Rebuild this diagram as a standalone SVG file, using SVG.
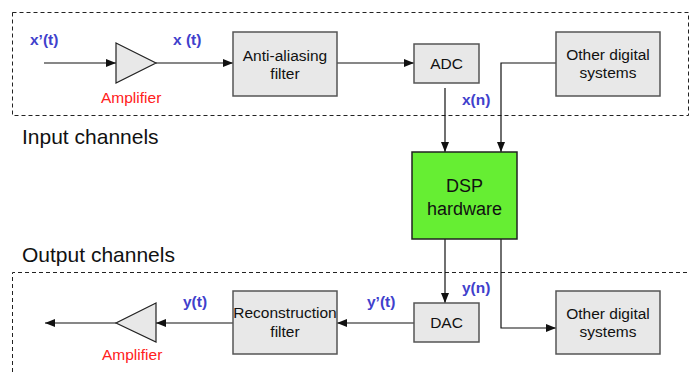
<svg xmlns="http://www.w3.org/2000/svg" width="690" height="372" viewBox="0 0 690 372">
<defs>
<style>
text{font-family:"Liberation Sans",Arial,sans-serif}
.box{fill:#e8e8e8;stroke:#555;stroke-width:1.5}
.dsp{fill:#66ee33;stroke:#222;stroke-width:1.5}
.tri{fill:#e8e8e8;stroke:#222;stroke-width:1.2}
.t{font-size:15.5px;fill:#111;text-anchor:middle}
.lbl{font-size:15.5px;font-weight:bold;fill:#4040cc}
.red{font-size:15.5px;fill:#ff2020}
.big{font-size:21px;fill:#111}
.dash{fill:none;stroke:#222;stroke-width:1;stroke-dasharray:4 3}
.ln{fill:none;stroke:#111;stroke-width:1.2;marker-end:url(#ah)}
.ln0{fill:none;stroke:#111;stroke-width:1.2}
</style>
<marker id="ah" viewBox="0 0 10 10" refX="10" refY="5" markerWidth="10" markerHeight="10" markerUnits="userSpaceOnUse" orient="auto">
<path d="M0,1 L10,5 L0,9 Z" fill="#111"/>
</marker>
</defs>
<g id="frames">
<rect class="dash" x="12.5" y="12.5" width="676" height="103"/>
<path class="dash" d="M12.5,372 V272.5 H690"/>
<text class="big" x="22" y="144">Input channels</text>
<text class="big" x="22" y="262">Output channels</text>
</g>
<g id="connectors">
<path class="ln" d="M44,63 H116"/>
<path class="ln" d="M156,63 H233"/>
<path class="ln" d="M337,63 H414"/>
<path class="ln" d="M445,88 V152"/>
<path class="ln" d="M556,63 H501 V152"/>
<path class="ln" d="M445,239 V303"/>
<path class="ln" d="M501,239 V328 H556"/>
<path class="ln" d="M414,323 H337"/>
<path class="ln" d="M233,323 H156"/>
<path class="ln" d="M116,323 H45"/>
</g>
<g id="amp-in">
<polygon class="tri" points="116,43 156,63 116,83"/>
<text class="red" x="101" y="103">Amplifier</text>
</g>
<g id="aaf">
<rect class="box" x="233" y="32" width="104" height="64"/>
<text class="t" x="285" y="61">Anti-aliasing</text>
<text class="t" x="285" y="79">filter</text>
</g>
<g id="adc">
<rect class="box" x="414" y="44" width="65" height="39"/>
<text class="t" x="446.5" y="69">ADC</text>
</g>
<g id="ods-top">
<rect class="box" x="556" y="32" width="104" height="64"/>
<text class="t" x="608" y="60">Other digital</text>
<text class="t" x="608" y="78">systems</text>
</g>
<g id="dsp">
<rect class="dsp" x="412" y="152" width="105" height="87"/>
<text class="t" x="464.5" y="192" style="font-size:18px">DSP</text>
<text class="t" x="464.5" y="215" style="font-size:18px">hardware</text>
</g>
<g id="dac">
<rect class="box" x="414" y="303" width="65" height="39"/>
<text class="t" x="446.5" y="328">DAC</text>
</g>
<g id="ods-bot">
<rect class="box" x="556" y="291" width="104" height="63"/>
<text class="t" x="608" y="319">Other digital</text>
<text class="t" x="608" y="337">systems</text>
</g>
<g id="recon">
<rect class="box" x="233" y="291" width="104" height="63"/>
<text class="t" x="285" y="318">Reconstruction</text>
<text class="t" x="285" y="337">filter</text>
</g>
<g id="amp-out">
<polygon class="tri" points="156,303 116,323 156,342"/>
<text class="red" x="102" y="360">Amplifier</text>
</g>
<g id="labels">
<text class="lbl" x="30" y="45">x’(t)</text>
<text class="lbl" x="173" y="45">x (t)</text>
<text class="lbl" x="462" y="105">x(n)</text>
<text class="lbl" x="462" y="293">y(n)</text>
<text class="lbl" x="367" y="307">y’(t)</text>
<text class="lbl" x="183" y="307">y(t)</text>
</g>
</svg>
